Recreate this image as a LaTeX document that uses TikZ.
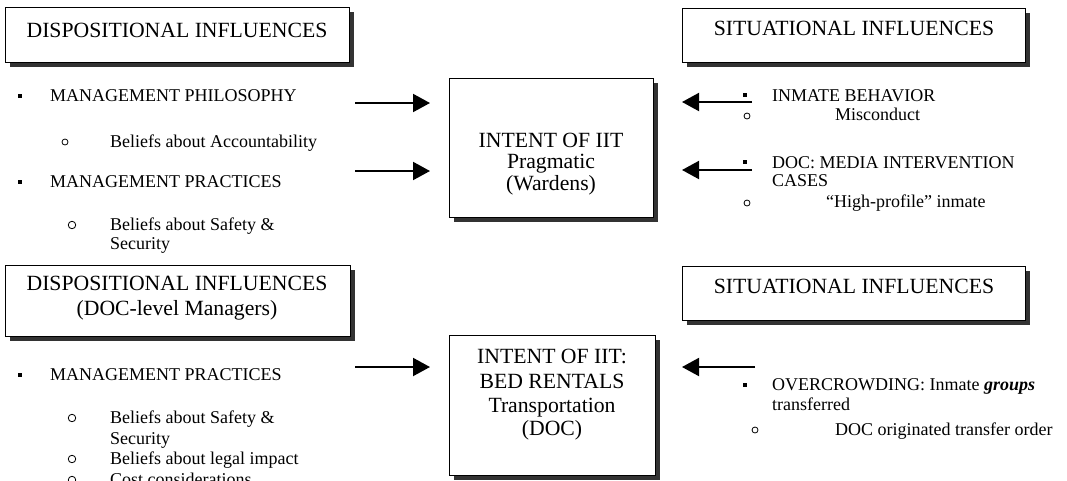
\documentclass[tikz,border=0pt]{standalone}
\usepackage{fontspec}
\setmainfont{Liberation Serif}
\usetikzlibrary{arrows.meta,shadows}
\tikzset{
  box/.style={draw=black, line width=1.4pt, fill=white, anchor=north west, inner sep=0pt,
    drop shadow={shadow xshift=4pt, shadow yshift=-4pt, fill=black!80, opacity=1}},
  big/.style={font=\fontsize{21.7}{25}\selectfont, anchor=base, inner sep=0pt},
  body/.style={font=\fontsize{18}{20.5}\selectfont, anchor=base west, inner sep=0pt},
  arr/.style={line width=2pt, -{Triangle[length=17pt,width=18pt]}},
  sq/.style={fill=black, minimum size=4.5pt, inner sep=0pt},
  circs/.style={draw, circle, line width=0.8pt, inner sep=0pt, minimum size=6pt},
  circl/.style={draw, circle, line width=0.8pt, inner sep=0pt, minimum size=7.5pt}
}
\begin{document}
\begin{tikzpicture}[x=1pt,y=-1pt]
\useasboundingbox (0,0) rectangle (1067,480);
\clip (0,0) rectangle (1067,480);
% boxes
\node[box, minimum width=344pt, minimum height=55pt] (tlbox) at (5,7) {};
\node[box, minimum width=204pt, minimum height=139pt] (tcbox) at (449,78) {};
\node[box, minimum width=343pt, minimum height=54pt] (trbox) at (682,8) {};
\node[box, minimum width=345pt, minimum height=71pt] (blbox) at (5,265) {};
\node[box, minimum width=206pt, minimum height=140pt] (bcbox) at (449,335) {};
\node[box, minimum width=343pt, minimum height=54pt] (brbox) at (682,266) {};
% box texts
\node[big] (tlt) at (177,37) {DISPOSITIONAL INFLUENCES};
\node[big] (tc1) at (551,147) {INTENT OF IIT};
\node[big] (tc2) at (551,168) {Pragmatic};
\node[big] (tc3) at (551,190) {(Wardens)};
\node[big] (trt) at (854,35) {SITUATIONAL INFLUENCES};
\node[big] (blt1) at (177,290) {DISPOSITIONAL INFLUENCES};
\node[big] (blt2) at (177,315) {(DOC-level Managers)};
\node[big] (bc1) at (552,363) {INTENT OF IIT:};
\node[big] (bc2) at (552,388) {BED RENTALS};
\node[big] (bc3) at (552,412) {Transportation};
\node[big] (bc4) at (552,435) {(DOC)};
\node[big] (brt) at (854,293) {SITUATIONAL INFLUENCES};
% left top list
\node[sq] (b1) at (20,96) {};
\node[body] (t1) at (50,101) {MANAGEMENT PHILOSOPHY};
\node[circs] (c1) at (65,142) {};
\node[body] (t2) at (110,147) {Beliefs about Accountability};
\node[sq] (b2) at (20,182) {};
\node[body] (t3) at (50,187) {MANAGEMENT PRACTICES};
\node[circl] (c2) at (72,225) {};
\node[body] (t4) at (110,230) {Beliefs about Safety \&};
\node[body] (t5) at (110,249) {Security};
% right top list
\node[sq] (b3) at (745,95) {};
\node[body] (t6) at (772,101) {INMATE BEHAVIOR};
\node[circs] (c3) at (747,116) {};
\node[body] (t7) at (835,120) {Misconduct};
\node[sq] (b4) at (745,162) {};
\node[body] (t8) at (772,168) {DOC: MEDIA INTERVENTION};
\node[body] (t9) at (772,186) {CASES};
\node[circs] (c4) at (747,203) {};
\node[body] (t10) at (826,207) {“High-profile” inmate};
% left bottom list
\node[sq] (b5) at (20,375) {};
\node[body] (t11) at (50,380) {MANAGEMENT PRACTICES};
\node[circl] (c5) at (72,418) {};
\node[body] (t12) at (110,423) {Beliefs about Safety \&};
\node[body] (t13) at (110,444) {Security};
\node[circl] (c6) at (72,459) {};
\node[body] (t14) at (110,464) {Beliefs about legal impact};
\node[circl] (c7) at (72,480) {};
\node[body] (t15) at (110,485) {Cost considerations};
% right bottom list
\node[sq] (b6) at (745,385) {};
\node[body] (t16) at (772,390) {OVERCROWDING: Inmate \textbf{\textit{groups}}};
\node[body] (t17) at (772,410) {transferred};
\node[circs] (c8) at (755,430) {};
\node[body] (t18) at (835,435) {DOC originated transfer order};
% arrows
\coordinate (l1s) at (355,103); \coordinate (l1e) at (430,103);
\coordinate (l2s) at (355,171); \coordinate (l2e) at (430,171);
\coordinate (r1s) at (752,102); \coordinate (r1e) at (682,102);
\coordinate (r2s) at (752,170); \coordinate (r2e) at (682,170);
\coordinate (l3s) at (355,367); \coordinate (l3e) at (430,367);
\coordinate (r3s) at (755,367); \coordinate (r3e) at (682,367);
\draw[arr] (l1s) -- (l1e);
\draw[arr] (l2s) -- (l2e);
\draw[arr] (r1s) -- (r1e);
\draw[arr] (r2s) -- (r2e);
\draw[arr] (l3s) -- (l3e);
\draw[arr] (r3s) -- (r3e);
\end{tikzpicture}
\end{document}
